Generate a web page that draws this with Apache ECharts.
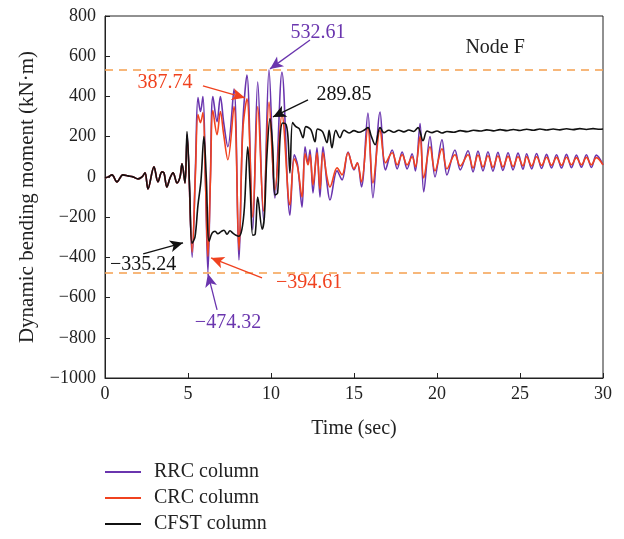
<!DOCTYPE html>
<html>
<head>
<meta charset="utf-8">
<script src="https://cdn.jsdelivr.net/npm/echarts@6/dist/echarts.min.js"></script>
<style>html,body{margin:0;padding:0;background:#fff}#c{width:624px;height:539px}</style>
</head>
<body>
<div id="c"></div>
<script>
// ---- data ----
const seriesNames = ['RRC column', 'CRC column', 'CFST column'];
const xTicks = [0, 5, 10, 15, 20, 25, 30];
const yTicks = [-1000, -800, -600, -400, -200, 0, 200, 400, 600, 800];

// common pre-event part (all three columns coincide)
const preT = [0, 0.2, 0.42, 0.72, 1.08, 1.39, 1.69, 1.99, 2.23, 2.41, 2.59, 2.95, 3.19, 3.43, 3.55, 3.73, 3.92, 4.10, 4.34, 4.52, 4.64, 4.82];
const preV = [-5, 0, 10, -25, 10, 5, 0, -10, 0, 20, -60, 50, -25, 25, 20, -50, -5, 20, -30, 0, 65, -30];

// RRC and CRC share the same peak times
const rcT = [4.95, 5.25, 5.45, 5.6, 5.75, 5.9, 6.05, 6.2, 6.35, 6.5, 6.75, 6.95, 7.15, 7.4, 7.77, 8.07, 8.3, 8.55, 8.9, 9.2, 9.55, 9.88, 10.24, 10.66, 11.14, 11.4, 11.6, 11.87, 12.05, 12.23, 12.35, 12.53, 12.77, 12.95, 13.13, 13.37, 13.55, 13.98, 14.28, 14.64, 15.0, 15.2, 15.45, 15.84, 16.14, 16.57, 16.9, 17.3, 17.6, 17.9, 18.2, 18.5, 18.7, 18.98, 19.2, 19.58, 19.88, 20.3, 20.6, 21.08, 21.4, 21.87, 22.17, 22.47, 22.77, 23.07, 23.37, 23.67, 23.97, 24.28, 24.58, 24.88, 25.18, 25.4, 25.7, 26.0, 26.3, 26.6, 26.9, 27.2, 27.5, 27.8, 28.1, 28.4, 28.7, 29.0, 29.3, 29.6, 30.0];
const rrcV = [210, -400, 50, 395, 325, 400, 0, -474, 0, 400, 275, 400, 270, 150, 437, -413, 260, 507, -263, 472, -214, 533, -105, 520, -190, 110, 60, -150, 150, 70, 135, -80, 145, -100, 150, -30, -115, 30, -15, 124, 35, 70, -50, 318, -104, 323, 35, 134, 40, 124, 40, 115, 30, 265, -75, 200, 0, 185, 10, 134, 35, 130, 25, 128, 30, 125, 28, 122, 32, 120, 35, 118, 38, 115, 40, 116, 42, 112, 45, 110, 44, 112, 46, 108, 48, 110, 47, 108, 60];
const crcV = [200, -375, 20, 310, 270, 320, -20, -395, -20, 330, 210, 325, 210, 85, 350, -363, 230, 388, -200, 350, -170, 372, -65, 310, -140, 90, 50, -100, 115, 60, 110, -40, 120, -60, 120, 0, -50, 45, 10, 120, 40, 70, -25, 243, -30, 233, 70, 120, 60, 110, 60, 100, 50, 200, -5, 150, 30, 140, 40, 110, 55, 110, 45, 108, 50, 105, 48, 104, 50, 102, 52, 100, 55, 100, 55, 100, 57, 98, 58, 97, 58, 98, 60, 96, 60, 97, 60, 96, 60];

const cfstT = [4.94, 5.1, 5.24, 5.42, 5.6, 5.78, 5.96, 6.1, 6.27, 6.45, 6.63, 6.8, 6.99, 7.17, 7.35, 7.53, 7.71, 7.89, 8.07, 8.25, 8.4, 8.6, 8.75, 8.9, 9.05, 9.2, 9.47, 9.6, 9.75, 9.94, 10.1, 10.24, 10.4, 10.55, 10.7, 10.9, 11.02, 11.14, 11.3, 11.5, 11.7, 11.93, 12.1, 12.4, 12.65, 12.8, 13.1, 13.37, 13.5, 13.67, 13.9, 14.15, 14.4, 14.7, 15.0, 15.3, 15.6, 15.84, 16.05, 16.27, 16.57, 16.8, 17.1, 17.4, 17.7, 18.0, 18.3, 18.6, 18.86, 19.16, 19.4, 19.7, 20.0, 20.3, 20.6, 21.0, 21.4, 21.8, 22.2, 22.6, 23.0, 23.4, 23.8, 24.2, 24.6, 25.0, 25.4, 25.8, 26.2, 26.6, 27.0, 27.4, 27.8, 28.2, 28.6, 29.0, 29.4, 29.8, 30.0];
const cfstV = [225, -60, -330, -300, -140, -20, 200, 0, -320, -280, -270, -283, -272, -265, -285, -268, -280, -290, -295, -260, -150, 150, -60, -290, -285, -100, -260, -200, 100, 290, 150, -90, -80, 200, 268, 262, 200, 20, 270, 250, 240, 195, 250, 235, 175, 238, 225, 170, 232, 145, 232, 195, 232, 218, 230, 222, 232, 245, 200, 160, 245, 220, 232, 222, 232, 224, 233, 226, 245, 180, 228, 220, 228, 218, 226, 222, 230, 225, 232, 228, 234, 229, 235, 230, 236, 231, 237, 232, 238, 233, 238, 234, 239, 235, 240, 236, 240, 237, 238];

// reference lines
const refLines = [532.61, -474.32];

// annotations: text, anchor position [t, v], colour key
const annText = ['532.61', '387.74', '289.85', '\u2212335.24', '\u2212394.61', '\u2212474.32', 'Node F'];
const annPos = [[12.83, 716], [3.61, 467], [14.4, 408], [2.3, -437], [12.3, -527], [7.41, -726], [23.5, 641]];
const annColorKey = ['rrc', 'crc', 'cfst', 'cfst', 'crc', 'rrc', 'cfst'];
// arrows: [from], [to] in data units
const arrowFrom = [[12.35, 681], [5.9, 452], [12.23, 383], [2.3, -383], [9.46, -502], [6.75, -661]];
const arrowTo = [[9.94, 537], [8.43, 393], [10.12, 298], [4.7, -328], [6.39, -403], [6.2, -482]];
const arrowColorKey = ['rrc', 'crc', 'cfst', 'cfst', 'crc', 'rrc'];

// ---- styling ----
const COL = {rrc: '#6A35AE', crc: '#F0421F', cfst: '#111111'};
const FONT = 'Liberation Serif';

function zip(t, v) { return t.map((x, i) => [x, v[i]]); }
const pre = zip(preT, preV);
const rrcData = pre.concat(zip(rcT, rrcV));
const crcData = pre.concat(zip(rcT, crcV));
const cfstData = pre.concat(zip(cfstT, cfstV));

const minus = v => String(v).replace('-', '\u2212');

const chart = echarts.init(document.getElementById('c'), null, {renderer: 'canvas'});

const lineSeries = (name, data, color, z) => ({
  name, type: 'line', data, symbol: 'none', smooth: 0.35, z,
  lineStyle: {color, width: 1.6}, itemStyle: {color},
  emphasis: {disabled: true}, animation: false
});

chart.setOption({
  animation: false,
  backgroundColor: '#fff',
  grid: {left: 105, right: 21, top: 16, bottom: 161, show: true, borderColor: '#222', borderWidth: 1},
  xAxis: {
    type: 'value', min: 0, max: 30, interval: 5,
    name: 'Time (sec)', nameLocation: 'middle', nameGap: 41,
    nameTextStyle: {fontFamily: FONT, fontSize: 20, color: '#222'},
    axisLine: {onZero: false, lineStyle: {color: '#222', width: 1}},
    axisTick: {inside: true, length: 5, lineStyle: {color: '#222'}},
    axisLabel: {fontFamily: FONT, fontSize: 18, color: '#222', margin: 7,
      formatter: v => xTicks.includes(v) ? String(v) : ''},
    splitLine: {show: false}
  },
  yAxis: {
    type: 'value', min: -1000, max: 800, interval: 200,
    name: 'Dynamic bending moment (kN\u00b7m)', nameLocation: 'middle', nameGap: 67,
    nameTextStyle: {fontFamily: FONT, fontSize: 21, color: '#222'},
    axisLine: {show: true, onZero: false, lineStyle: {color: '#222', width: 1}},
    axisTick: {show: true, inside: true, length: 5, lineStyle: {color: '#222'}},
    axisLabel: {fontFamily: FONT, fontSize: 18, color: '#222', margin: 9,
      formatter: v => yTicks.includes(v) ? minus(v) : ''},
    splitLine: {show: false}
  },
  legend: {
    orient: 'vertical', left: 100, top: 457, height: 82, itemWidth: 36, itemHeight: 2, itemGap: 6,
    icon: 'rect',
    data: seriesNames,
    textStyle: {fontFamily: FONT, fontSize: 20, lineHeight: 20, color: '#222', padding: [0, 0, 0, 8]}
  },
  series: [
    lineSeries(seriesNames[0], rrcData, COL.rrc, 2),
    lineSeries(seriesNames[1], crcData, COL.crc, 3),
    lineSeries(seriesNames[2], cfstData, COL.cfst, 4),
    {
      type: 'line', data: [], silent: true, z: 1,
      markLine: {
        silent: true, symbol: ['none', 'none'], animation: false,
        label: {show: false},
        lineStyle: {color: '#F5A04F', width: 1.5, type: [8, 6]},
        data: refLines.map(y => ({yAxis: y}))
      }
    },
    {
      type: 'line', data: [], silent: true, z: 6,
      markLine: {
        silent: true, animation: false, symbol: ['none', 'arrow'], symbolSize: [9, 13],
        label: {show: false},
        data: arrowFrom.map((f, i) => [
          {coord: f, lineStyle: {color: COL[arrowColorKey[i]], width: 1.3, type: 'solid'}, itemStyle: {color: COL[arrowColorKey[i]]}},
          {coord: arrowTo[i]}
        ])
      },
      markPoint: {
        silent: true, animation: false, symbol: 'circle', symbolSize: 0,
        data: annPos.map((p, i) => ({
          coord: p, value: annText[i],
          label: {show: true, position: 'inside', formatter: annText[i],
            fontFamily: FONT, fontSize: 20,
            color: i === 6 ? '#222' : COL[annColorKey[i]]}
        }))
      }
    }
  ]
});
</script>
</body>
</html>
